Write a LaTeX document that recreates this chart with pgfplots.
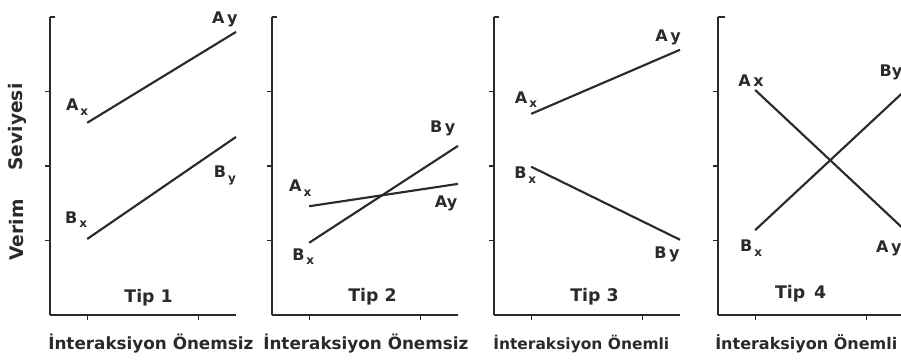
\documentclass[border=0pt]{standalone}
\usepackage{fontspec}
\setmainfont{DejaVu Sans}
\usepackage{pgfplots}
\pgfplotsset{compat=1.18}
\definecolor{ink}{HTML}{2A2A2A}

% letter with a lowered small index, and letter with a normal-size index
\newcommand{\lo}[2]{#1\raisebox{-0.28em}{\fontsize{9}{9}\selectfont\,#2}}
\newcommand{\hi}[2]{#1\,#2}

\tikzset{
  tag/.style={font=\bfseries\fontsize{12}{12}\selectfont, text=ink, inner sep=0pt},
  tip/.style={font=\bfseries\fontsize{13}{13}\selectfont, text=ink, inner sep=0pt},
  topmark/.style={draw=ink, line width=0.9pt},
  trace/.style={draw=ink, line width=1.6pt, mark=none},
}

\pgfplotsset{
  panel/.style={
    scale only axis,
    width=139.5pt, height=223.5pt,
    anchor=south west,
    xmin=0, xmax=5, ymin=0, ymax=4,
    axis x line=bottom, axis y line=left,
    axis line style={-, line width=1.4pt, draw=ink},
    xtick={1,4}, ytick={1,2,3},
    xticklabels={}, yticklabels={},
    major tick style={draw=ink, line width=0.9pt},
    tick align=outside,
    major tick length=3.5pt,
    clip=false,
  },
}

\begin{document}
\begin{tikzpicture}
\useasboundingbox (0,0) rectangle (675.75pt,270.75pt);
\clip (0,0) rectangle (675.75pt,270.75pt);

% Tip 1: parallel lines, no interaction
\begin{axis}[panel, at={(37.5pt,34.5pt)}]
  \addplot[trace] coordinates {(1,2.58) (5,3.80)};
  \addplot[trace] coordinates {(1,1.02) (5,2.39)};
  \draw[topmark] (axis cs:0,4) -- ++(4pt,0);
  \node[tag] at (axis cs:0.73,2.79) {\lo{A}{x}};
  \node[tag] at (axis cs:4.70,3.97) {\hi{A}{y}};
  \node[tag] at (axis cs:0.70,1.28) {\lo{B}{x}};
  \node[tag] at (axis cs:4.70,1.87) {\lo{B}{y}};
  \node[tip] at (axis cs:2.65,0.23) {Tip 1};
\end{axis}

% Tip 2
\begin{axis}[panel, at={(204pt,34.5pt)}]
  \addplot[trace] coordinates {(1,1.46) (5,1.76)};
  \addplot[trace] coordinates {(1,0.97) (5,2.27)};
  \draw[topmark] (axis cs:0,4) -- ++(4pt,0);
  \node[tag] at (axis cs:0.76,1.70) {\lo{A}{x}};
  \node[tag] at (axis cs:4.68,1.50) {Ay};
  \node[tag] at (axis cs:0.84,0.78) {\lo{B}{x}};
  \node[tag] at (axis cs:4.59,2.51) {\hi{B}{y}};
  \node[tip] at (axis cs:2.70,0.24) {Tip 2};
\end{axis}

% Tip 3
\begin{axis}[panel, at={(370.5pt,34.5pt)}]
  \addplot[trace] coordinates {(1,2.70) (5,3.56)};
  \addplot[trace] coordinates {(1,1.99) (5,1.01)};
  \draw[topmark] (axis cs:0,4) -- ++(4pt,0);
  \node[tag] at (axis cs:0.86,2.89) {\lo{A}{x}};
  \node[tag] at (axis cs:4.68,3.73) {\hi{A}{y}};
  \node[tag] at (axis cs:0.84,1.88) {\lo{B}{x}};
  \node[tag] at (axis cs:4.65,0.81) {\hi{B}{y}};
  \node[tip] at (axis cs:2.70,0.24) {Tip 3};
\end{axis}

% Tip 4: crossing lines
\begin{axis}[panel, at={(538.5pt,34.5pt)}]
  \addplot[trace] coordinates {(1,3.02) (5,1.15)};
  \addplot[trace] coordinates {(1,1.14) (5,3.00)};
  \draw[topmark] (axis cs:0,4) -- ++(5pt,0);
  \node[tag] at (axis cs:0.89,3.15) {\hi{A}{x}};
  \node[tag] at (axis cs:4.65,3.26) {By};
  \node[tag] at (axis cs:0.89,0.90) {\lo{B}{x}};
  \node[tag] at (axis cs:4.59,0.90) {\hi{A}{y}};
  \node[tip] at (axis cs:2.22,0.28) {Tip\, 4};
\end{axis}

% shared labels
\begin{scope}[every node/.style={text=ink, inner sep=0pt}]
  \node[rotate=90, font=\bfseries\fontsize{14}{14}\selectfont] at (12.75pt,98.25pt) {Verim};
  \node[rotate=90, font=\bfseries\fontsize{14}{14}\selectfont] at (12.75pt,175.5pt) {Seviyesi};
  \begin{scope}[every node/.append style={anchor=west}]
    \node[font=\bfseries\fontsize{12.6}{14}\selectfont] at (36pt,12.75pt) {İnteraksiyon Önemsiz};
    \node[font=\bfseries\fontsize{12.6}{14}\selectfont] at (197.25pt,12.75pt) {İnteraksiyon Önemsiz};
    \node[font=\bfseries\fontsize{11.6}{14}\selectfont] at (369.75pt,12.75pt) {İnteraksiyon Önemli};
    \node[font=\bfseries\fontsize{12}{14}\selectfont] at (536.25pt,12.75pt) {İnteraksiyon Önemli};
  \end{scope}
\end{scope}
\end{tikzpicture}
\end{document}
